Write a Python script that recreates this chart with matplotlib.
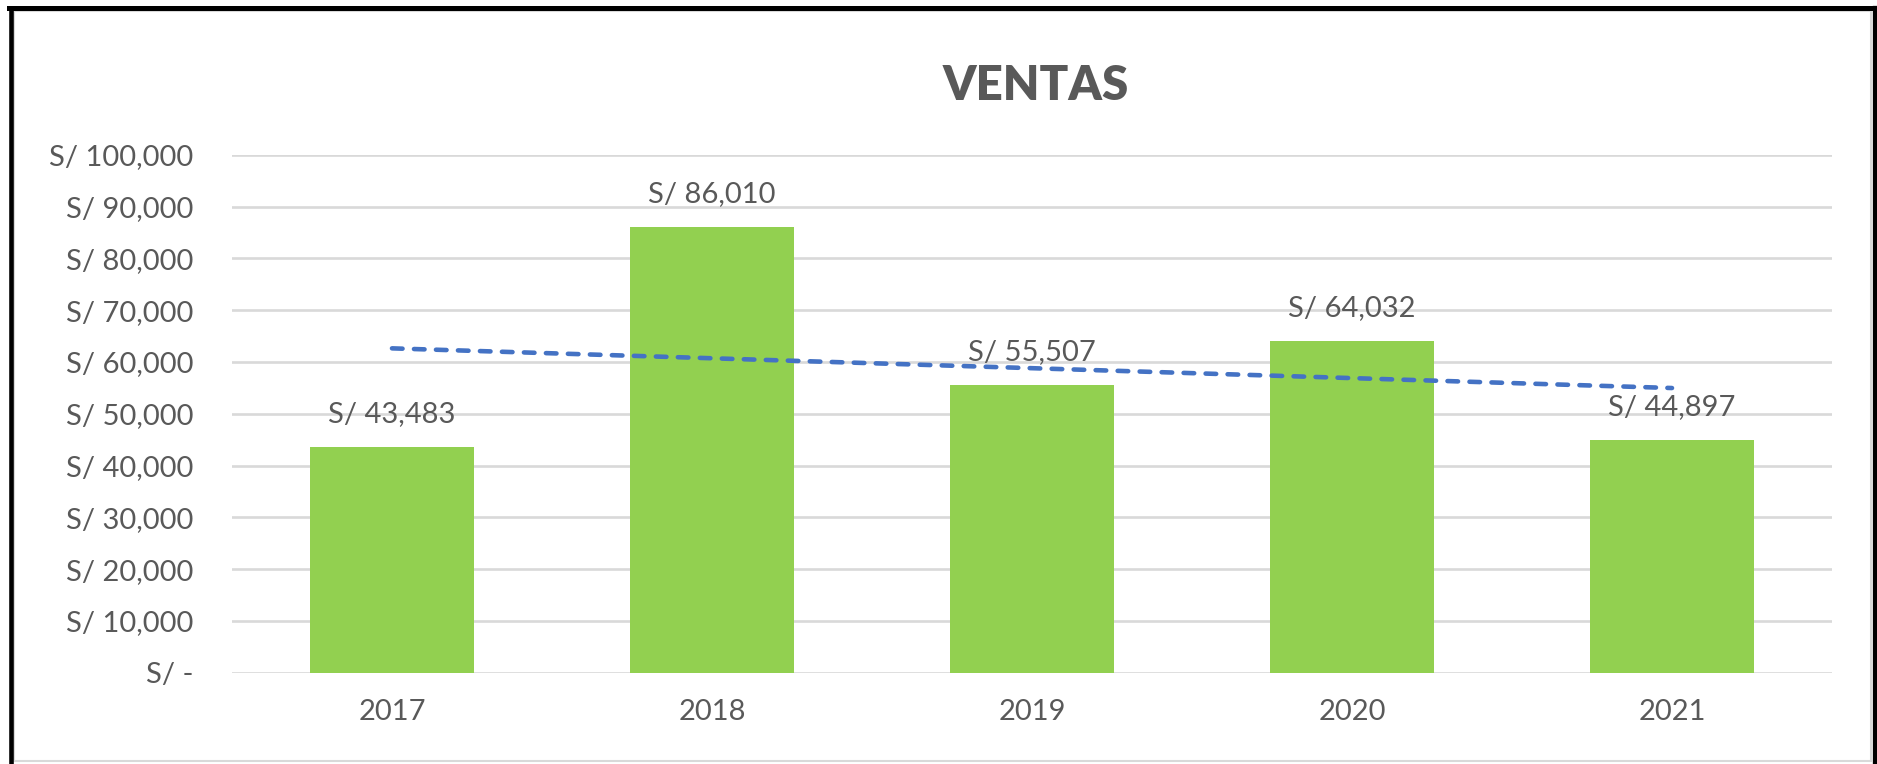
import numpy as np
import matplotlib.pyplot as plt
from matplotlib.lines import Line2D
from matplotlib.ticker import FuncFormatter

years = ['2017', '2018', '2019', '2020', '2021']
ventas = [43483, 86010, 55507, 64032, 44897]
yticks = [0, 10000, 20000, 30000, 40000, 50000, 60000, 70000, 80000, 90000, 100000]

W, H = 1877, 764
plt.rcParams['font.family'] = ['Lato', 'DejaVu Sans']
gray = '#595959'

fig = plt.figure(figsize=(W / 100, H / 100), dpi=100)
ax = fig.add_axes([232 / W, 1 - 672.7 / H, 1600 / W, 518 / H])

x = np.arange(len(years))
ax.bar(x, ventas, width=0.51, color='#92D050', zorder=2)

# tendencia lineal (como la linea de tendencia de Excel)
m, b = np.polyfit(x, ventas, 1)
ax.plot(x[[0, -1]], m * x[[0, -1]] + b, color='#4472C4', lw=3.3,
        dashes=(2.3, 2.5), dash_capstyle='round', zorder=3)

for xi, v in zip(x, ventas):
    ax.annotate(f'S/ {v:,.0f}', (xi, v), xytext=(0, 18), textcoords='offset points',
                ha='center', va='baseline', fontsize=21, color=gray, zorder=4)

ax.set_xlim(-0.5, len(years) - 0.5)
ax.set_ylim(0, 100000)
ax.set_yticks(yticks)
ax.yaxis.set_major_formatter(FuncFormatter(lambda v, p: 'S/ -' if v == 0 else f'S/ {v:,.0f}'))
ax.set_xticks(x)
ax.set_xticklabels(years)
ax.tick_params(axis='y', length=0, pad=28, labelsize=21, labelcolor=gray)
ax.tick_params(axis='x', length=0, pad=19, labelsize=21, labelcolor=gray)
ax.grid(axis='y', color='#D9D9D9', lw=1.9, zorder=0)
ax.set_axisbelow(True)
for s in ax.spines.values():
    s.set_visible(False)

fig.text(1036 / W, 1 - 86 / H, 'VENTAS', ha='center', va='center',
         fontsize=34, fontweight='heavy', color=gray)

# marco del grafico
def fl(x0, y0, x1, y1, c, lw):
    fig.add_artist(Line2D([x0 / W, x1 / W], [1 - y0 / H, 1 - y1 / H], color=c, lw=lw))

fl(14, 11, 1870.5, 11, '#D9D9D9', 1.5)
fl(14, 761, 1870.5, 761, '#D9D9D9', 1.5)
fl(14, 11, 14, 761, '#D9D9D9', 1.5)
fl(1870.5, 11, 1870.5, 761, '#D9D9D9', 1.5)
fl(11, 7.5, 11, H, 'black', 3.3)
fl(9, 7.5, W, 7.5, 'black', 3.6)
fl(1874.5, 7.5, 1874.5, H, 'black', 3.8)

fig.savefig('out.png', dpi=100)
